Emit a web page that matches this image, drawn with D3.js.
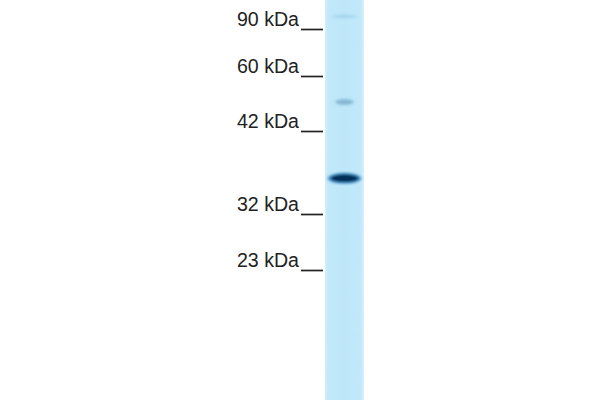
<!DOCTYPE html>
<html>
<head>
<meta charset="utf-8">
<script src="https://cdn.jsdelivr.net/npm/d3@7"></script>
<style>
  html, body { margin: 0; padding: 0; background: #fff; }
  svg { display: block; }
  text { font-family: "Liberation Sans", Arial, sans-serif; }
</style>
</head>
<body>
<svg id="chart" width="600" height="400"></svg>
<script>
// marker ladder
var markerKda = [90, 60, 42, 32, 23];
var markerPos = [29, 76, 131, 214, 270];

// bands seen in the lane, read against the ladder
var bandKda = [98, 51.5, 36.3];
var bandWidth = [24, 17, 28];
var bandThick = [2, 3.4, 5.2];
var bandOpacity = [0.07, 0.2, 1];

var svg = d3.select("#chart");
var width = 600, height = 400;

var y = d3.scaleLinear().domain(markerKda).range(markerPos);
var laneX = d3.scaleLinear().domain([0, 1]).range([325, 364]);

var defs = svg.append("defs");

var laneGrad = defs.append("linearGradient").attr("id", "laneGrad");
[[0, "#d2f0fb"], [0.08, "#c2e9fa"], [0.5, "#bde7f9"], [0.92, "#c2e9fa"], [1, "#d8f2fc"]].forEach(function(s) {
    laneGrad.append("stop").attr("offset", s[0]).attr("stop-color", s[1]);
});

defs.append("filter").attr("id", "soft")
    .attr("x", "-40%").attr("y", "-150%").attr("width", "180%").attr("height", "400%")
  .append("feGaussianBlur").attr("stdDeviation", "1.8 1.2");

// blotchy texture of the membrane
var grain = defs.append("filter").attr("id", "grain")
    .attr("x", 0).attr("y", 0).attr("width", 1).attr("height", 1);
grain.append("feTurbulence").attr("type", "fractalNoise")
    .attr("baseFrequency", 0.09).attr("numOctaves", 3).attr("seed", 4);
grain.append("feColorMatrix").attr("type", "matrix")
    .attr("values", "0 0 0 0 0.55  0 0 0 0 0.78  0 0 0 0 0.95  0 0 0 1.6 -0.55");

svg.append("rect")
   .attr("x", laneX(0)).attr("y", 0)
   .attr("width", laneX(1) - laneX(0)).attr("height", height)
   .attr("fill", "url(#laneGrad)");

svg.append("rect")
   .attr("x", laneX(0) + 1).attr("y", 0)
   .attr("width", laneX(1) - laneX(0) - 2).attr("height", height)
   .attr("filter", "url(#grain)")
   .attr("opacity", 0.45);

var bands = svg.append("g").attr("filter", "url(#soft)");

bands.selectAll("ellipse.halo")
   .data(bandKda)
   .enter().append("ellipse")
   .attr("class", "halo")
   .attr("cx", laneX(0.5))
   .attr("cy", function(d) { return y(d); })
   .attr("rx", function(d, i) { return bandWidth[i] * 0.6; })
   .attr("ry", function(d, i) { return bandThick[i] + 0.6; })
   .attr("fill", "#3d8cc4")
   .attr("opacity", function(d, i) { return bandOpacity[i] * 0.85; });

bands.selectAll("ellipse.core")
   .data(bandKda)
   .enter().append("ellipse")
   .attr("class", "core")
   .attr("cx", laneX(0.5))
   .attr("cy", function(d) { return y(d); })
   .attr("rx", function(d, i) { return bandWidth[i] * 0.5; })
   .attr("ry", function(d, i) { return bandThick[i] * 0.72; })
   .attr("fill", "#042f58")
   .attr("opacity", function(d, i) { return bandOpacity[i]; });

var axis = d3.axisLeft(y)
   .tickValues(markerKda)
   .tickSize(22)
   .tickPadding(2)
   .tickFormat(function(d) { return d + " kDa"; });

var axisG = svg.append("g")
   .attr("transform", "translate(323,0)")
   .call(axis);

axisG.select(".domain").remove();
axisG.selectAll("line").attr("stroke", "#222").attr("stroke-width", 1.7);
axisG.selectAll("text")
   .attr("fill", "#222")
   .attr("font-size", 19.6)
   .attr("dy", "-0.17em")
   .style("font-family", "'Liberation Sans', Arial, sans-serif");
</script>
</body>
</html>
